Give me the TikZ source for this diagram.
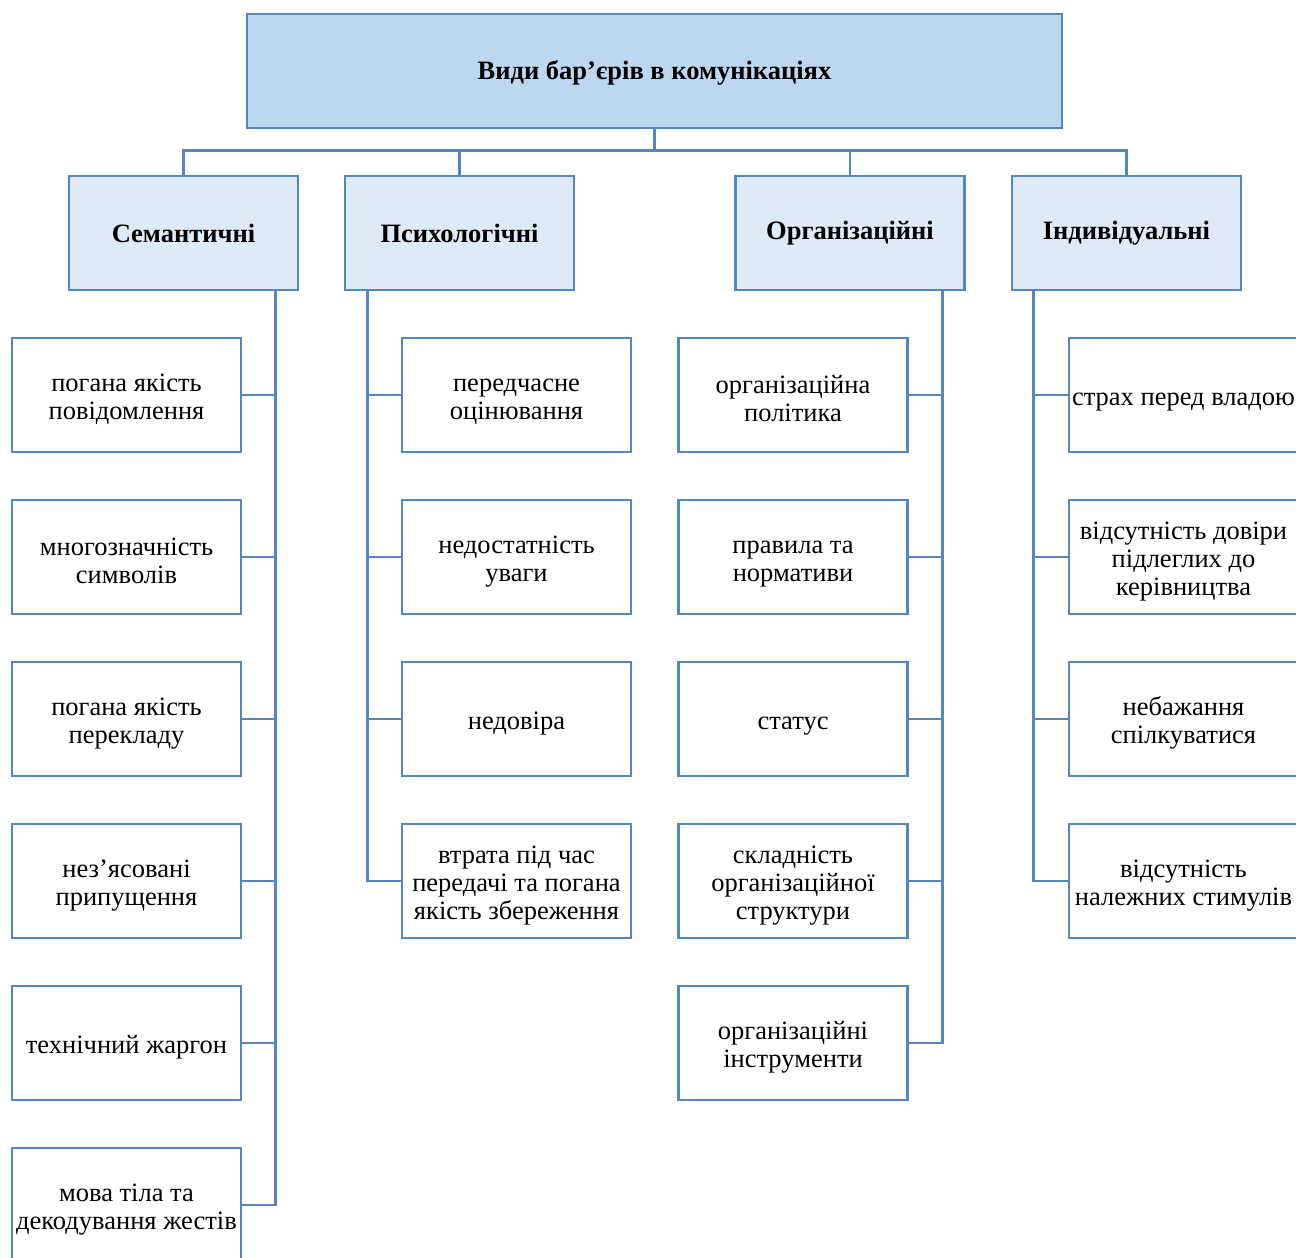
\documentclass[tikz,border=0pt]{standalone}
\usepackage{fontspec}
\setmainfont{Liberation Serif}
\definecolor{bord}{RGB}{84,134,194}
\definecolor{topfill}{RGB}{189,215,238}
\definecolor{catfill}{RGB}{222,234,246}
\newcommand{\fst}{\rule{0pt}{26pt}}
\begin{document}
\begin{tikzpicture}[x=1pt,y=-1pt,
  base/.style={draw=bord,line width=2.5pt,align=center,inner sep=0pt,
    font=\fontsize{26.5}{28}\selectfont},
  topbox/.style={base,fill=topfill,minimum width=815,minimum height=114,
    font=\fontsize{26.5}{28}\selectfont\bfseries},
  catbox/.style={base,fill=catfill,minimum width=229,minimum height=114,
    font=\fontsize{26.5}{28}\selectfont\bfseries},
  leafbox/.style={base,fill=white,minimum width=229,minimum height=114},
  conn/.style={draw=bord,line width=2.7pt}]
\useasboundingbox (0,0) rectangle (1296,1258);
\clip (0,0) rectangle (1296,1258);

\node[topbox] (top) at (654.5,71) {\rule{0pt}{22pt}Види бар’єрів в комунікаціях};

\node[catbox] (sem) at (183.5,233) {Семантичні};
\node[catbox] (psy) at (459.5,233) {Психологічні};
\node[catbox] (org) at (850,233) {Організаційні};
\node[catbox] (ind) at (1126.5,233) {Індивідуальні};

\foreach \c in {sem,psy,org,ind}
  \draw[conn] (\c.north) -- ++(0,-24) -| (top.south);

% Semantic
\node[leafbox] (s1) at (126.5,395) {\fst погана якість\\повідомлення};
\node[leafbox] (s2) at (126.5,557) {\fst многозначність\\символів};
\node[leafbox] (s3) at (126.5,719) {\fst погана якість\\перекладу};
\node[leafbox] (s4) at (126.5,881) {\fst нез’ясовані\\припущення};
\node[leafbox] (s5) at (126.5,1043) {\fst технічний жаргон};
\node[leafbox] (s6) at (126.5,1205) {\fst мова тіла та\\декодування жестів};
\draw[conn] ([xshift=-24pt]sem.south east) |- (s6.east);
\foreach \n in {s1,s2,s3,s4,s5}
  \draw[conn] (\n.east) -- ++(33,0);

% Psychological
\node[leafbox] (p1) at (516.5,395) {\fst передчасне\\оцінювання};
\node[leafbox] (p2) at (516.5,557) {\fst недостатність\\уваги};
\node[leafbox] (p3) at (516.5,719) {\fst недовіра};
\node[leafbox] (p4) at (516.5,881) {\fst втрата під час\\передачі та погана\\якість збереження};
\draw[conn] ([xshift=24pt]psy.south west) |- (p4.west);
\foreach \n in {p1,p2,p3}
  \draw[conn] (\n.west) -- ++(-33,0);

% Organisational
\node[leafbox] (o1) at (793,395) {\fst організаційна\\політика};
\node[leafbox] (o2) at (793,557) {\fst правила та\\нормативи};
\node[leafbox] (o3) at (793,719) {\fst статус};
\node[leafbox] (o4) at (793,881) {\fst складність\\організаційної\\структури};
\node[leafbox] (o5) at (793,1043) {\fst організаційні\\інструменти};
\draw[conn] ([xshift=-23pt]org.south east) |- (o5.east);
\foreach \n in {o1,o2,o3,o4}
  \draw[conn] (\n.east) -- ++(34,0);

% Individual
\node[leafbox] (i1) at (1183.5,395) {\fst страх перед владою};
\node[leafbox] (i2) at (1183.5,557) {\fst відсутність довіри\\підлеглих до\\керівництва};
\node[leafbox] (i3) at (1183.5,719) {\fst небажання\\спілкуватися};
\node[leafbox] (i4) at (1183.5,881) {\fst відсутність\\належних стимулів};
\draw[conn] ([xshift=23pt]ind.south west) |- (i4.west);
\foreach \n in {i1,i2,i3}
  \draw[conn] (\n.west) -- ++(-34,0);
\end{tikzpicture}
\end{document}
